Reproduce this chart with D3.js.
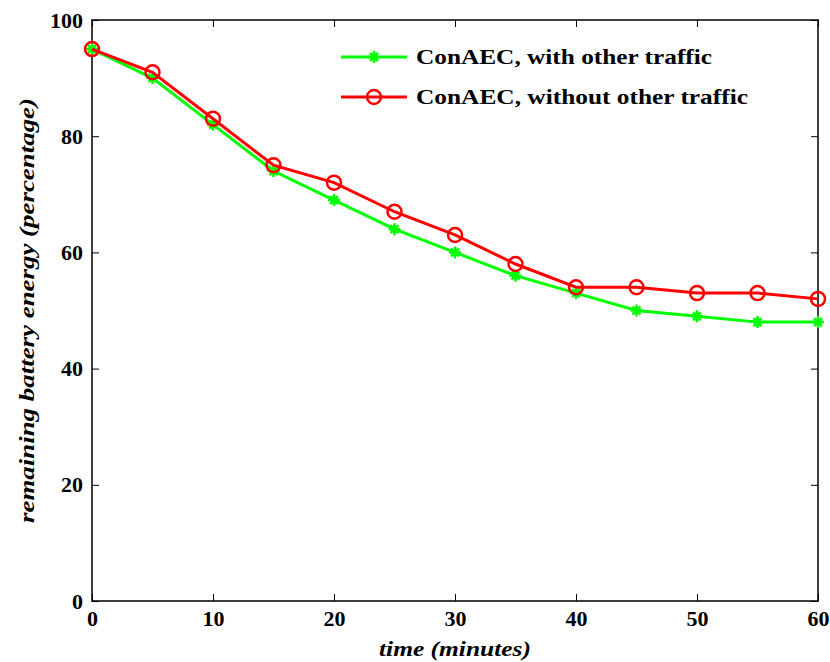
<!DOCTYPE html>
<html><head><meta charset="utf-8">
<script src="https://cdn.jsdelivr.net/npm/d3@7"></script>
<style>body{margin:0;background:#fff}</style>
</head><body>
<svg id="c" width="830" height="662"></svg>
<script>
const times = [0,5,10,15,20,25,30,35,40,45,50,55,60];
const withTraffic = [95,90,82,74,69,64,60,56,53,50,49,48,48];
const withoutTraffic = [95,91,83,75,72,67,63,58,54,54,53,53,52];
const xTicks = [0,10,20,30,40,50,60];
const yTicks = [0,20,40,60,80,100];
const seriesNames = ["ConAEC, with other traffic","ConAEC, without other traffic"];

const svg = d3.select("#c");
const L=92,R=818,T=20,B=601;
const x = d3.scaleLinear().domain([0,60]).range([L,R]);
const y = d3.scaleLinear().domain([0,100]).range([B,T]);
const font = "'Liberation Serif', 'DejaVu Serif', serif";

const ax = (g, axis) => { g.call(axis); g.select(".domain").remove(); };
svg.append("g").attr("transform",`translate(0,${B})`).call(g=>ax(g,d3.axisBottom(x).tickValues(xTicks).tickSize(-7).tickPadding(9)));
svg.append("g").attr("transform",`translate(0,${T})`).call(g=>ax(g,d3.axisTop(x).tickValues(xTicks).tickSize(-7).tickFormat("")));
svg.append("g").attr("transform",`translate(${L},0)`).call(g=>ax(g,d3.axisLeft(y).tickValues(yTicks).tickSize(-7).tickPadding(9)));
svg.append("g").attr("transform",`translate(${R},0)`).call(g=>ax(g,d3.axisRight(y).tickValues(yTicks).tickSize(-7).tickFormat("")));
svg.selectAll(".tick line").attr("stroke","#000").attr("stroke-width",1);
svg.selectAll(".tick text").attr("font-family",font).attr("font-weight","bold").attr("font-size",22).attr("fill","#000");
svg.append("rect").attr("x",L).attr("y",T).attr("width",R-L).attr("height",B-T).attr("fill","none").attr("stroke","#000").attr("stroke-width",1.5);

const line = d3.line().x((d,i)=>x(times[i])).y(d=>y(d));
function star(g, cx, cy){
  g.append("path").attr("d",`M${cx-6},${cy}L${cx+6},${cy}M${cx},${cy-6}L${cx},${cy+6}M${cx-4},${cy-4}L${cx+4},${cy+4}M${cx-4},${cy+4}L${cx+4},${cy-4}`)
   .attr("stroke","#00ff00").attr("stroke-width",2.5);
  g.append("circle").attr("cx",cx).attr("cy",cy).attr("r",3.5).attr("fill","#00ff00");
}
function ring(g, cx, cy){
  g.append("circle").attr("cx",cx).attr("cy",cy).attr("r",7).attr("fill","none").attr("stroke","#ff0000").attr("stroke-width",2.5);
}
const gG = svg.append("g");
gG.append("path").datum(withTraffic).attr("d",line).attr("fill","none").attr("stroke","#00ff00").attr("stroke-width",3);
withTraffic.forEach((v,i)=>star(gG,x(times[i]),y(v)));
const gR = svg.append("g");
gR.append("path").datum(withoutTraffic).attr("d",line).attr("fill","none").attr("stroke","#ff0000").attr("stroke-width",3);
withoutTraffic.forEach((v,i)=>ring(gR,x(times[i]),y(v)));

const lg = svg.append("g");
[[57,"#00ff00",star,296],[97,"#ff0000",ring,332]].forEach(([ly,col,mk,tl],i)=>{
  lg.append("line").attr("x1",341).attr("x2",407).attr("y1",ly).attr("y2",ly).attr("stroke",col).attr("stroke-width",3);
  mk(lg,374,ly);
  lg.append("text").attr("x",416).attr("y",ly+7).text(seriesNames[i])
    .attr("textLength",tl).attr("lengthAdjust","spacingAndGlyphs")
    .attr("font-family",font).attr("font-weight","bold").attr("font-size",22).attr("fill","#000");
});

svg.append("text").attr("x",(L+R)/2).attr("y",656).attr("text-anchor","middle").text("time (minutes)")
  .attr("textLength",152).attr("lengthAdjust","spacingAndGlyphs")
  .attr("font-family",font).attr("font-weight","bold").attr("font-style","italic").attr("font-size",22);
svg.append("text").attr("transform",`translate(34,${(T+B)/2}) rotate(-90)`).attr("text-anchor","middle").text("remaining battery energy (percentage)")
  .attr("textLength",425).attr("lengthAdjust","spacingAndGlyphs")
  .attr("font-family",font).attr("font-weight","bold").attr("font-style","italic").attr("font-size",22);
</script>
</body></html>
